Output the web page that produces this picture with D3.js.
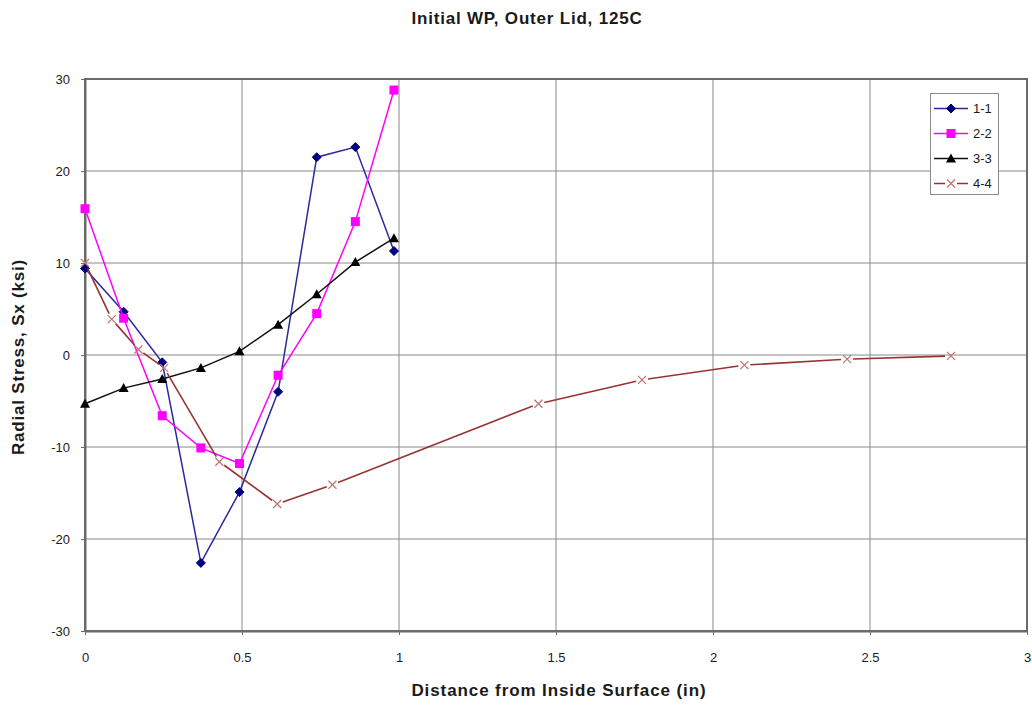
<!DOCTYPE html>
<html>
<head>
<meta charset="utf-8">
<script src="https://cdn.jsdelivr.net/npm/d3@7"></script>
<style>
  html, body { margin: 0; padding: 0; background: #fff; }
  svg { display: block; }
  text { font-family: "Liberation Sans", Arial, sans-serif; fill: #1a1a1a; }
</style>
</head>
<body>
<svg id="chart" width="1032" height="705"></svg>
<script>
// Radial stress through the outer lid thickness, four section cuts
const depth = [0, 0.123, 0.246, 0.369, 0.492, 0.615, 0.738, 0.861, 0.984];
const s11 = [9.4, 4.7, -0.8, -22.6, -14.9, -4.0, 21.5, 22.6, 11.3];
const s22 = [15.9, 4.0, -6.6, -10.1, -11.8, -2.2, 4.5, 14.5, 28.8];
const s33 = [-5.3, -3.6, -2.6, -1.4, 0.4, 3.3, 6.6, 10.1, 12.7];
const depth44 = [0, 0.085, 0.17, 0.252, 0.428, 0.612, 0.788, 1.444, 1.774, 2.1, 2.427, 2.758];
const s44 = [10, 3.9, 0.6, -1.4, -11.6, -16.2, -14.1, -5.3, -2.7, -1.1, -0.45, -0.1];

const seriesNames = ["1-1", "2-2", "3-3", "4-4"];
const xTicks = [0, 0.5, 1, 1.5, 2, 2.5, 3];
const yTicks = [-30, -20, -10, 0, 10, 20, 30];

const chartTitle = "Initial WP, Outer Lid, 125C";
const xTitle = "Distance from Inside Surface (in)";
const yTitle = "Radial Stress, Sx (ksi)";

const series = [
  { name: seriesNames[0], xs: depth, ys: s11, color: "#000080", line: "#2a2a9a", marker: "diamond" },
  { name: seriesNames[1], xs: depth, ys: s22, color: "#ff00ff", line: "#ff00ff", marker: "square" },
  { name: seriesNames[2], xs: depth, ys: s33, color: "#000000", line: "#111111", marker: "triangle" },
  { name: seriesNames[3], xs: depth44, ys: s44, color: "#c07070", line: "#993333", marker: "cross" }
];

const svg = d3.select("#chart");
const plot = { left: 85, right: 1027, top: 79, bottom: 631 };

const x = d3.scaleLinear().domain([0, 3]).range([plot.left, plot.right]);
const y = d3.scaleLinear().domain([-30, 30]).range([plot.bottom, plot.top]);

// gridlines
const grid = svg.append("g");
grid.selectAll("line.v").data(xTicks.filter(t => t > 0 && t < 3)).join("line")
  .attr("x1", d => x(d)).attr("x2", d => x(d))
  .attr("y1", plot.top).attr("y2", plot.bottom)
  .attr("stroke", "#8a8a8a").attr("stroke-width", 1);
grid.selectAll("line.h").data(yTicks.filter(t => t > -30 && t < 30)).join("line")
  .attr("x1", plot.left).attr("x2", plot.right)
  .attr("y1", d => y(d)).attr("y2", d => y(d))
  .attr("stroke", "#8a8a8a").attr("stroke-width", 1);

// frame
svg.append("rect")
  .attr("x", plot.left).attr("y", plot.top)
  .attr("width", plot.right - plot.left).attr("height", plot.bottom - plot.top)
  .attr("fill", "none").attr("stroke", "#6a6a6a").attr("stroke-width", 2);

// axes
const xAxis = svg.append("g").attr("transform", `translate(0,${plot.bottom})`)
  .call(d3.axisBottom(x).tickValues(xTicks).tickSize(4).tickSizeOuter(0).tickPadding(18)
    .tickFormat(d => String(d)));
const yAxis = svg.append("g").attr("transform", `translate(${plot.left},0)`)
  .call(d3.axisLeft(y).tickValues(yTicks).tickSize(4).tickSizeOuter(0).tickPadding(11)
    .tickFormat(d => String(d)));
[xAxis, yAxis].forEach(a => {
  a.select(".domain").attr("stroke", "#6a6a6a").attr("stroke-width", 2);
  a.selectAll(".tick line").attr("stroke", "#6a6a6a");
  a.selectAll(".tick text").attr("font-size", 13).attr("fill", "#222")
    .style("font-family", "'Liberation Sans', Arial, sans-serif");
});

// marker shapes
function drawMarker(g, type, cx, cy, color) {
  if (type === "diamond") {
    g.append("path").attr("d", `M${cx},${cy - 4.5}L${cx + 4.5},${cy}L${cx},${cy + 4.5}L${cx - 4.5},${cy}Z`)
      .attr("fill", color).attr("stroke", color);
  } else if (type === "square") {
    g.append("rect").attr("x", cx - 4.5).attr("y", cy - 4.5).attr("width", 9).attr("height", 9)
      .attr("fill", color);
  } else if (type === "triangle") {
    g.append("path").attr("d", `M${cx},${cy - 5}L${cx + 5},${cy + 4}L${cx - 5},${cy + 4}Z`)
      .attr("fill", color);
  } else {
    g.append("path").attr("d", `M${cx - 4},${cy - 4}L${cx + 4},${cy + 4}M${cx - 4},${cy + 4}L${cx + 4},${cy - 4}`)
      .attr("stroke", color).attr("stroke-width", 1.2).attr("fill", "none");
  }
}

const lineGen = d3.line().x(d => x(d[0])).y(d => y(d[1]));

series.forEach(s => {
  const g = svg.append("g");
  const pts = s.xs.map((v, i) => [v, s.ys[i]]);
  if (s.marker === "cross") {
    // segments stop short of the cross markers
    const gap = 6;
    for (let i = 0; i < pts.length - 1; i++) {
      const x0 = x(pts[i][0]), y0 = y(pts[i][1]);
      const x1 = x(pts[i + 1][0]), y1 = y(pts[i + 1][1]);
      const len = Math.hypot(x1 - x0, y1 - y0);
      const ux = (x1 - x0) / len, uy = (y1 - y0) / len;
      g.append("line")
        .attr("x1", x0 + ux * gap).attr("y1", y0 + uy * gap)
        .attr("x2", x1 - ux * gap).attr("y2", y1 - uy * gap)
        .attr("stroke", s.line).attr("stroke-width", 1.6);
    }
  } else {
    g.append("path").datum(pts).attr("d", lineGen)
      .attr("fill", "none").attr("stroke", s.line).attr("stroke-width", 1.5);
  }
  pts.forEach(p => drawMarker(g, s.marker, x(p[0]), y(p[1]), s.color));
});

// legend
const leg = svg.append("g");
leg.append("rect").attr("x", 930.5).attr("y", 93.5).attr("width", 68).attr("height", 101)
  .attr("fill", "#fff").attr("stroke", "#8a8a8a").attr("stroke-width", 1);
series.forEach((s, i) => {
  const ly = 108.5 + i * 25;
  if (s.marker === "cross") {
    leg.append("line").attr("x1", 934).attr("x2", 945).attr("y1", ly).attr("y2", ly)
      .attr("stroke", s.line).attr("stroke-width", 1.5);
    leg.append("line").attr("x1", 957).attr("x2", 968).attr("y1", ly).attr("y2", ly)
      .attr("stroke", s.line).attr("stroke-width", 1.5);
  } else {
    leg.append("line").attr("x1", 934).attr("x2", 968).attr("y1", ly).attr("y2", ly)
      .attr("stroke", s.line).attr("stroke-width", 1.5);
  }
  drawMarker(leg, s.marker, 951, ly, s.color);
  leg.append("text").attr("x", 973).attr("y", ly).attr("dy", "0.35em")
    .attr("font-size", 13).attr("fill", "#333").text(s.name);
});

// titles
svg.append("text").attr("x", 527).attr("y", 24).attr("text-anchor", "middle")
  .attr("font-size", 17).attr("font-weight", "bold").attr("letter-spacing", 0.8).text(chartTitle);
svg.append("text").attr("x", 559).attr("y", 696).attr("text-anchor", "middle")
  .attr("font-size", 17).attr("font-weight", "bold").attr("letter-spacing", 0.9).text(xTitle);
svg.append("text").attr("transform", "translate(24,357) rotate(-90)").attr("text-anchor", "middle")
  .attr("font-size", 17).attr("font-weight", "bold").attr("letter-spacing", 0.8).text(yTitle);
</script>
</body>
</html>
